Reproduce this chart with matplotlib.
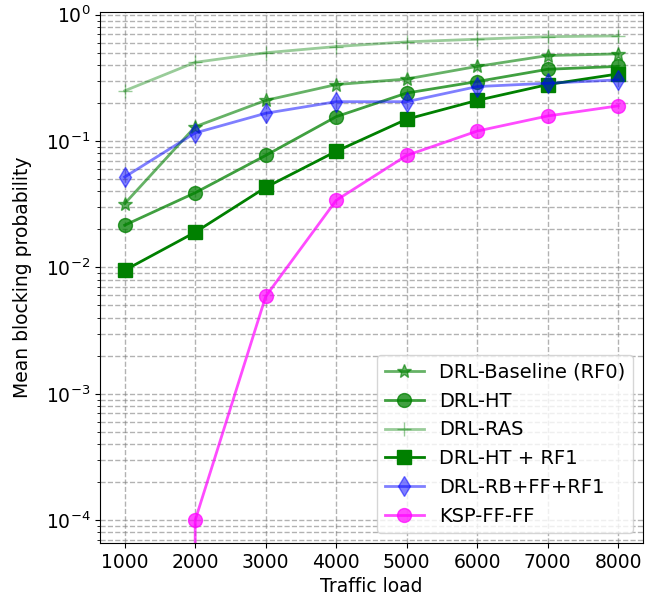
import matplotlib
matplotlib.use("Agg")
import matplotlib.pyplot as plt

loads = [1000, 2000, 3000, 4000, 5000, 6000, 7000, 8000]

baseline = [0.032, 0.13, 0.21, 0.28, 0.31, 0.39, 0.475, 0.49]
drl_ht = [0.0216, 0.039, 0.077, 0.156, 0.24, 0.296, 0.37, 0.39]
drl_ras = [0.25, 0.42, 0.50, 0.56, 0.61, 0.64, 0.67, 0.68]
drl_ht_rf1 = [0.0095, 0.019, 0.043, 0.083, 0.149, 0.21, 0.28, 0.34]
drl_rb = [0.052, 0.116, 0.166, 0.205, 0.205, 0.27, 0.287, 0.305]
ksp = [0.0, 1.0e-4, 0.0059, 0.034, 0.077, 0.12, 0.158, 0.19]

fig = plt.figure(figsize=(6.58, 6.02), dpi=100)
ax = fig.add_axes([0.152, 0.098, 0.825, 0.882])

fs = 13.5
ax.plot(loads, baseline, '-*', color='green', alpha=0.6, lw=2, ms=10, label="DRL-Baseline (RF0)")
ax.plot(loads, drl_ht, '-o', color='green', alpha=0.75, lw=2, ms=10, label="DRL-HT")
ax.plot(loads, drl_ras, '-+', color='green', alpha=0.4, lw=2, ms=10, label="DRL-RAS")
ax.plot(loads, drl_ht_rf1, '-s', color='green', lw=2, ms=10, label="DRL-HT + RF1")
ax.plot(loads, drl_rb, '-d', color='blue', alpha=0.5, lw=2, ms=10, label="DRL-RB+FF+RF1")
ax.plot(loads, ksp, '-o', color='magenta', alpha=0.7, lw=2, ms=10, label="KSP-FF-FF")

ax.set_yscale('log')
ax.set_ylim(6.6e-5, 1.05)
ax.grid(True, which='both', linestyle='--', color='gray', alpha=0.6, lw=1)
ax.set_xlabel("Traffic load", fontsize=fs)
ax.set_ylabel("Mean blocking probability", fontsize=fs, labelpad=10)
ax.tick_params(labelsize=fs)
ax.legend(loc='lower right', fontsize=14)

fig.savefig("out.png")
